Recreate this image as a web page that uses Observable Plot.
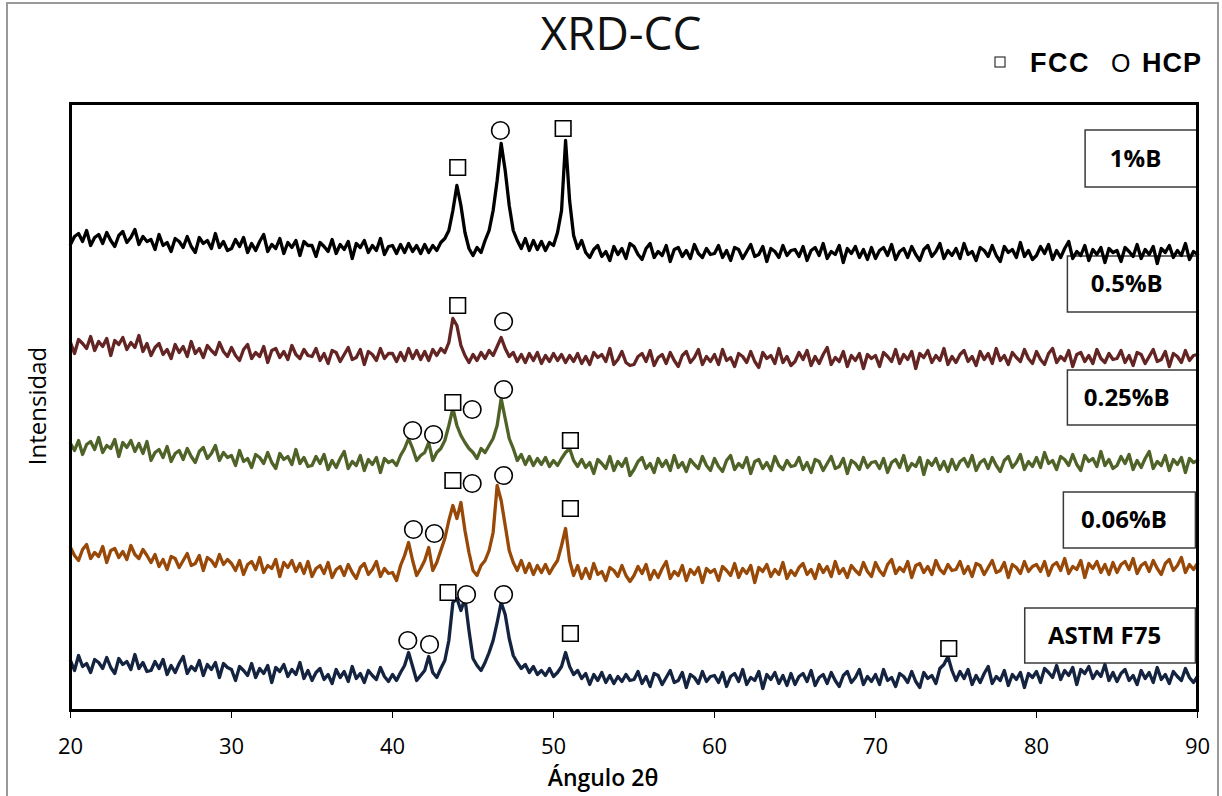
<!DOCTYPE html>
<html>
<head>
<meta charset="utf-8">
<script src="https://cdn.jsdelivr.net/npm/d3@7"></script>
<script src="https://cdn.jsdelivr.net/npm/@observablehq/plot@0.6"></script>
<style>
  html, body { margin: 0; padding: 0; background: #ffffff; }
  #wrap { position: relative; width: 1222px; height: 796px; overflow: hidden; background: #ffffff; }
  #border { position: absolute; left: 6px; top: 2px; width: 1213px; height: 810px; border: 2px solid #9a9a9a; box-sizing: border-box; pointer-events: none; }
  #chart { position: absolute; left: 0; top: 0; }
  #overlay { position: absolute; left: 0; top: 0; pointer-events: none; }
</style>
</head>
<body>
<div id="wrap">
  <div id="border"></div>
  <div id="chart"></div>
  <svg id="overlay" width="1222" height="796" xmlns="http://www.w3.org/2000/svg">
    <text x="621" y="50" text-anchor="middle" font-family="'Open Sans', sans-serif" font-weight="500" font-size="46" fill="#111">XRD-CC</text>
    <rect x="995" y="57" width="10" height="10" fill="none" stroke="#333" stroke-width="1.2"></rect>
    <text x="1030" y="72" font-family="'Liberation Sans', Arial, sans-serif" font-weight="bold" font-size="27" letter-spacing="1.5" fill="#000">FCC</text>
    <text x="1111" y="72" font-family="'Liberation Sans', Arial, sans-serif" font-size="25" fill="#000">O</text>
    <text x="1142" y="72" font-family="'Liberation Sans', Arial, sans-serif" font-weight="bold" font-size="27" letter-spacing="1" fill="#000">HCP</text>
    <text x="603" y="786" text-anchor="middle" font-family="'Open Sans', sans-serif" font-weight="600" font-size="23" fill="#000">Ángulo 2θ</text>
    <text transform="translate(46,406) rotate(-90)" text-anchor="middle" font-family="'Open Sans', sans-serif" font-size="24" fill="#000">Intensidad</text>
  </svg>
</div>
<script>
// ---- scan angles (2θ, degrees), one row per 5° ----
const angles = [
  20,20.25,20.5,20.75,21,21.25,21.5,21.75,22,22.25,22.5,22.75,23,23.25,23.5,23.75,24,24.25,24.5,24.75,
  25,25.25,25.5,25.75,26,26.25,26.5,26.75,27,27.25,27.5,27.75,28,28.25,28.5,28.75,29,29.25,29.5,29.75,
  30,30.25,30.5,30.75,31,31.25,31.5,31.75,32,32.25,32.5,32.75,33,33.25,33.5,33.75,34,34.25,34.5,34.75,
  35,35.25,35.5,35.75,36,36.25,36.5,36.75,37,37.25,37.5,37.75,38,38.25,38.5,38.75,39,39.25,39.5,39.75,
  40,40.25,40.5,40.75,41,41.25,41.5,41.75,42,42.25,42.5,42.75,43,43.25,43.5,43.75,44,44.25,44.5,44.75,
  45,45.25,45.5,45.75,46,46.25,46.5,46.75,47,47.25,47.5,47.75,48,48.25,48.5,48.75,49,49.25,49.5,49.75,
  50,50.25,50.5,50.75,51,51.25,51.5,51.75,52,52.25,52.5,52.75,53,53.25,53.5,53.75,54,54.25,54.5,54.75,
  55,55.25,55.5,55.75,56,56.25,56.5,56.75,57,57.25,57.5,57.75,58,58.25,58.5,58.75,59,59.25,59.5,59.75,
  60,60.25,60.5,60.75,61,61.25,61.5,61.75,62,62.25,62.5,62.75,63,63.25,63.5,63.75,64,64.25,64.5,64.75,
  65,65.25,65.5,65.75,66,66.25,66.5,66.75,67,67.25,67.5,67.75,68,68.25,68.5,68.75,69,69.25,69.5,69.75,
  70,70.25,70.5,70.75,71,71.25,71.5,71.75,72,72.25,72.5,72.75,73,73.25,73.5,73.75,74,74.25,74.5,74.75,
  75,75.25,75.5,75.75,76,76.25,76.5,76.75,77,77.25,77.5,77.75,78,78.25,78.5,78.75,79,79.25,79.5,79.75,
  80,80.25,80.5,80.75,81,81.25,81.5,81.75,82,82.25,82.5,82.75,83,83.25,83.5,83.75,84,84.25,84.5,84.75,
  85,85.25,85.5,85.75,86,86.25,86.5,86.75,87,87.25,87.5,87.75,88,88.25,88.5,88.75,89,89.25,89.5,89.75,
  90];

// ---- series (stacked intensity, arbitrary units) ----
const seriesNames = ["ASTM F75", "0.06%B", "0.25%B", "0.5%B", "1%B"];
const seriesColors = ["#14233f", "#984807", "#4f6228", "#632523", "#000000"];

const intensityASTM = [
  50,40,55,44,47,38,51,48,42,53,43,37,52,46,49,41,56,42,48,39,
  40,49,42,51,36,45,38,47,54,37,44,40,50,35,46,41,48,33,47,43,
  41,30,44,40,35,47,33,42,37,45,28,43,39,46,34,41,36,48,32,40,
  30,38,42,31,36,27,41,33,39,29,44,32,37,28,40,35,31,43,34,29,
  36,30,38,45,58,44,30,35,40,54,38,33,42,50,70,108,112,100,112,80,
  52,45,40,48,58,70,88,108,96,72,55,48,42,46,38,44,36,40,35,42,
  34,38,44,58,44,36,40,32,37,26,36,30,38,28,35,27,34,29,36,30,
  31,39,27,34,24,37,35,26,33,40,28,30,38,23,36,33,27,39,29,34,
  35,28,38,24,34,37,29,41,26,33,30,39,22,36,31,38,27,35,25,37,
  26,34,37,29,40,25,33,36,27,38,30,24,35,39,28,33,41,26,34,29,
  36,26,41,30,33,24,37,34,28,39,29,23,38,32,35,27,42,46,54,40,
  30,39,32,41,26,35,28,37,44,27,34,30,40,25,36,31,38,23,37,33,
  39,28,42,38,33,45,31,40,35,43,26,41,37,44,32,39,34,46,30,38,
  29,37,41,30,35,26,40,32,38,28,43,31,36,27,39,34,30,42,33,28,
  34];

const intensity006 = [
  163,155,150,161,166,152,158,154,164,148,160,162,153,159,151,165,156,152,161,155,
  148,156,144,151,141,154,152,143,150,157,145,147,155,140,153,150,144,156,146,151,
  147,140,150,136,146,149,141,153,138,145,142,151,134,148,143,150,139,147,137,149,
  134,142,145,137,148,133,141,144,135,146,138,132,143,147,136,141,149,134,142,137,
  138,130,145,155,168,150,135,142,150,163,140,148,160,172,190,205,192,208,180,158,
  140,135,145,150,160,178,225,210,185,160,148,140,150,138,147,136,145,138,146,137,
  144,150,165,182,150,135,145,132,142,132,147,136,139,130,143,140,134,145,135,129,
  135,144,137,146,131,140,133,142,149,132,139,135,145,130,141,136,143,128,142,138,
  141,130,144,140,135,147,133,142,137,145,128,143,139,146,134,141,136,148,132,140,
  135,143,147,136,141,132,146,138,144,134,149,137,142,133,145,140,136,148,139,134,
  148,140,135,146,151,137,143,139,149,133,145,147,138,144,136,150,141,137,146,140,
  141,149,137,144,134,147,145,136,143,150,138,140,148,133,146,143,137,149,139,144,
  146,139,149,135,145,148,140,152,137,144,141,150,133,147,142,149,138,146,136,148,
  138,146,149,141,152,137,145,148,139,150,142,136,147,151,140,145,153,138,146,141,
  147];

const intensity025 = [
  267,260,270,256,266,269,261,273,258,265,262,271,254,268,263,270,259,267,257,269,
  250,258,261,253,264,249,257,260,251,262,254,248,259,263,252,257,265,250,258,253,
  255,245,260,249,252,243,256,253,247,258,248,242,257,251,254,246,261,247,253,244,
  245,254,247,256,241,250,243,252,259,242,249,245,255,240,251,246,253,238,252,248,
  250,245,255,262,272,262,250,255,258,268,250,258,262,270,285,302,285,275,268,262,
  258,252,262,258,265,272,285,312,292,272,262,250,256,246,254,245,252,246,253,244,
  250,245,252,258,262,250,244,251,243,248,237,251,247,242,254,240,249,244,252,235,
  241,249,253,242,247,238,252,244,250,240,255,243,248,239,251,246,242,254,245,240,
  252,244,239,250,255,241,247,243,253,237,249,251,242,248,240,254,245,241,250,244,
  245,253,241,248,238,251,249,240,247,254,242,244,252,237,250,247,241,253,243,248,
  249,242,252,238,248,251,243,255,240,247,244,253,236,250,245,252,241,249,239,251,
  241,249,252,244,255,240,248,251,242,253,245,239,250,254,243,248,256,241,249,244,
  253,243,258,247,250,241,254,251,245,256,246,240,255,249,252,244,259,245,251,242,
  245,254,247,256,241,250,243,252,259,242,249,245,255,240,251,246,253,238,252,248,
  250];

const intensity05 = [
  368,357,371,367,362,374,360,369,364,372,355,370,366,373,361,368,363,375,359,367,
  355,363,367,356,361,352,366,358,364,354,369,357,362,353,365,360,356,368,359,354,
  363,355,350,361,366,352,358,354,364,348,360,362,353,359,351,365,356,352,361,355,
  354,362,350,357,347,360,358,349,356,363,351,353,361,346,359,356,350,362,352,357,
  357,349,358,350,362,352,360,351,359,350,361,355,362,358,368,392,385,365,355,348,
  356,350,358,352,360,355,364,373,362,354,358,349,356,348,357,350,358,347,355,349,
  357,350,356,348,355,349,357,347,354,346,358,353,356,349,362,346,351,359,348,345,
  346,354,357,349,360,345,353,356,347,358,350,344,355,359,348,353,361,346,354,349,
  356,346,361,350,353,344,357,354,348,359,349,343,358,352,355,347,362,348,354,345,
  349,358,351,360,345,354,347,356,363,346,353,349,359,344,355,350,357,342,356,352,
  355,344,358,354,349,361,347,356,351,359,342,357,353,360,348,355,350,362,346,354,
  348,356,360,349,354,345,359,351,357,347,362,350,355,346,358,353,349,361,352,347,
  359,351,346,357,362,348,354,350,360,344,356,358,349,355,347,361,352,348,357,351,
  352,360,348,355,345,358,356,347,354,361,349,351,359,344,357,354,348,360,350,355,
  356];

const intensity1 = [
  466,474,477,469,480,465,473,476,467,478,470,464,475,479,468,473,481,466,474,469,
  471,461,476,465,468,459,472,469,463,474,464,458,473,467,470,462,477,463,469,460,
  462,471,464,473,458,467,460,469,476,459,466,462,472,457,468,463,470,455,469,465,
  465,454,468,464,459,471,457,466,461,469,452,467,463,470,458,465,460,472,456,464,
  465,457,466,458,467,459,465,457,466,458,465,460,468,472,480,500,525,505,478,462,
  455,463,458,470,480,500,530,567,540,505,480,470,462,472,460,470,461,469,460,468,
  465,478,500,570,510,475,462,470,458,453,461,465,454,459,450,464,456,462,452,467,
  464,456,451,462,467,453,459,455,465,449,461,463,454,460,452,466,457,453,462,456,
  457,465,453,460,450,463,461,452,459,466,454,456,464,449,462,459,453,465,455,460,
  461,454,464,450,460,463,455,467,452,459,456,465,448,462,457,464,453,461,451,463,
  452,460,463,455,466,451,459,462,453,464,456,450,461,465,454,459,467,452,460,455,
  462,452,467,456,459,450,463,460,454,465,455,449,464,458,461,453,468,454,460,451,
  455,464,457,466,451,460,453,462,469,452,459,455,465,450,461,456,463,448,462,458,
  460,449,463,459,454,466,452,461,456,464,447,462,458,465,453,460,455,467,451,459,
  456];

const seriesValues = [intensityASTM, intensity006, intensity025, intensity05, intensity1];

// ---- phase markers ----
const markerPhase = ["FCC","HCP","FCC",
  "FCC","HCP",
  "HCP","HCP","FCC","HCP","HCP","FCC",
  "HCP","HCP","FCC","HCP","HCP","FCC",
  "HCP","HCP","FCC","HCP","HCP","FCC","FCC"];
const markerAngle = [44.05,46.7,50.6,
  44.05,46.9,
  41.25,42.55,43.75,44.95,46.9,51.05,
  41.3,42.6,43.75,44.95,46.9,51.05,
  40.95,42.3,43.45,44.6,46.9,51.05,74.55];
const markerLevel = [543,580,582,
  405,389,
  280,276,308,301,321,270,
  181,177,230,227,235,202,
  70,66,118,116,116,77,62];

// ---- sample label boxes (in angle / intensity units) ----
const boxLabels = ["1%B", "0.5%B", "0.25%B", "0.06%B", "ASTM F75"];
const boxAngleLeft = [83.05, 81.95, 81.95, 81.7, 79.3];
const boxAngleRight = [90, 90, 90, 89.9, 89.9];
const boxLow = [523, 398, 285, 162, 47];
const boxHigh = [580, 454, 340, 218, 102];

const xTicks = [20, 30, 40, 50, 60, 70, 80, 90];

// ---- build tables ----
const rows = seriesNames.flatMap((name, k) =>
  seriesValues[k].map((v, i) => ({series: name, angle: angles[i], intensity: v})));
const markers = markerPhase.map((p, i) => ({phase: p, angle: markerAngle[i], level: markerLevel[i]}));
const boxes = boxLabels.map((l, i) => ({label: l, a1: boxAngleLeft[i], a2: boxAngleRight[i], lo: boxLow[i], hi: boxHigh[i]}));

const chart = Plot.plot({
  width: 1222,
  height: 796,
  marginLeft: 70,
  marginRight: 25,
  marginTop: 103,
  marginBottom: 86,
  style: {fontFamily: "'Open Sans', sans-serif", fontSize: "22px", color: "black", background: "transparent"},
  x: {domain: [20, 90]},
  y: {domain: [0, 607], axis: null},
  color: {domain: seriesNames, range: seriesColors},
  symbol: {domain: ["FCC", "HCP"], range: ["square", "circle"]},
  marks: [
    Plot.rect(boxes, {x1: "a1", x2: "a2", y1: "lo", y2: "hi", fill: "white", stroke: "#3a3a3a", strokeWidth: 1.5}),
    Plot.line(rows, {x: "angle", y: "intensity", z: "series", stroke: "series", strokeWidth: 3.3}),
    Plot.text(boxes, {x: d => (d.a1 + d.a2) / 2, y: d => (d.lo + d.hi) / 2, text: "label", dx: -6,
      fontWeight: "bold", fontSize: 24, fill: "black"}),
    Plot.dot(markers, {x: "angle", y: "level", symbol: "phase", r: 8.8, fill: "white", stroke: "black", strokeWidth: 1.6}),
    Plot.axisX({ticks: xTicks, tickSize: 8, tickPadding: 20, tickFormat: d => String(d), label: null, fontSize: 22}),
    Plot.frame({stroke: "black", strokeWidth: 3})
  ]
});
document.getElementById("chart").appendChild(chart);
</script>
</body>
</html>
